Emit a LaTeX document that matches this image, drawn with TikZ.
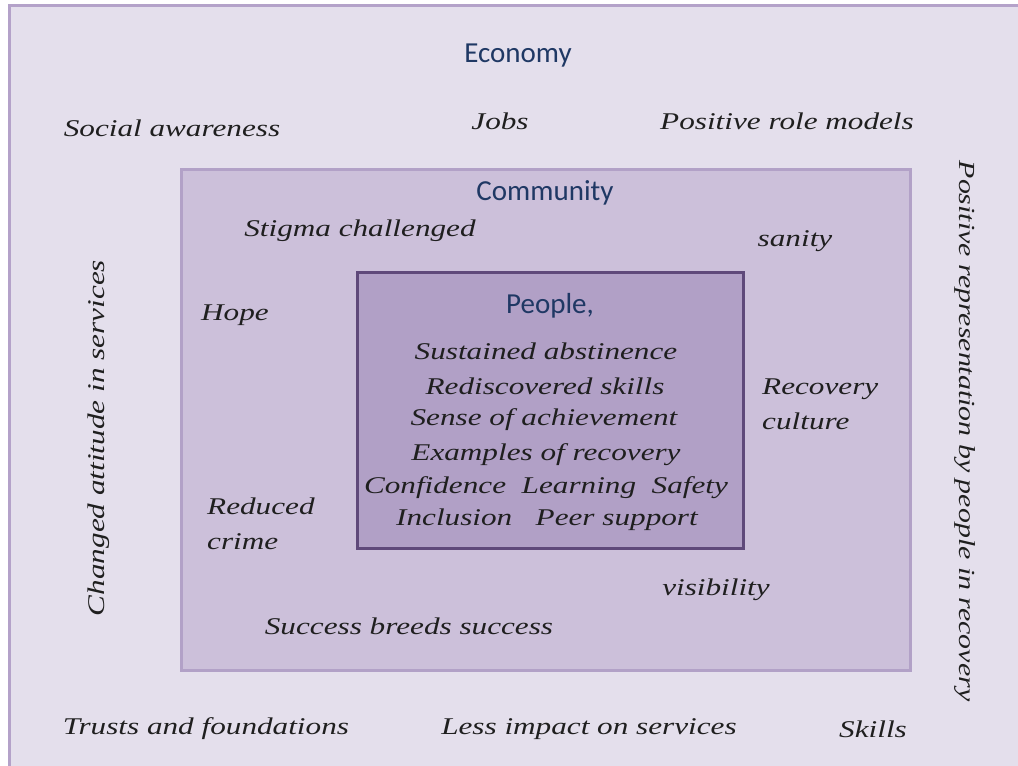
\documentclass[tikz,border=0pt]{standalone}
\usepackage{fontspec}
\newfontfamily\hand{Liberation Serif}[ItalicFont=*, UprightFont=* Italic, FakeStretch=1.3]
\newfontfamily\headfont{Carlito}
\definecolor{outerfill}{HTML}{E4DFEC}
\definecolor{outerline}{HTML}{B4A2C9}
\definecolor{midfill}{HTML}{CCC0DA}
\definecolor{midline}{HTML}{B2A1C7}
\definecolor{innerfill}{HTML}{B1A0C6}
\definecolor{innerline}{HTML}{5F497A}
\definecolor{headblue}{HTML}{1F3864}
\tikzset{
  hand/.style={font=\hand\fontsize{24}{35}\selectfont, text=black!88, inner sep=0pt},
  head/.style={font=\headfont\fontsize{29}{34}\selectfont, text=headblue, inner sep=0pt},
  outerbox/.style={fill=outerfill, draw=outerline, line width=3pt},
  midbox/.style={fill=midfill, draw=midline, line width=3pt},
  innerbox/.style={fill=innerfill, draw=innerline, line width=3pt}
}
\begin{document}
\begin{tikzpicture}[x=1pt,y=-1pt]
\clip (0,0) rectangle (1018,766);
\fill[white] (0,0) rectangle (1018,766);
\draw[outerbox] (9.5,5.5) rectangle (1040,790);
\draw[midbox] (181.5,169.5) rectangle (910.5,670.5);
\draw[innerbox] (357.5,272.5) rectangle (743.5,548.5);

\node[head] (economy) at (518,56) {Economy};
\node[hand] (social) at (172,128) {Social awareness};
\node[hand] (jobs) at (500,121) {Jobs};
\node[hand] (rolemodels) at (787,121) {Positive role models};

\node[head] (community) at (545,193) {Community};
\node[hand] (stigma) at (360,231) {Stigma challenged};
\node[hand] (sanity) at (795,241) {sanity};
\node[hand] (hope) at (235,315) {Hope};
\node[hand, align=left, anchor=west] (culture) at (762,404) {Recovery\\culture};
\node[hand, align=left, anchor=west] (crime) at (207,524) {Reduced\\crime};
\node[hand] (visibility) at (716,590) {visibility};
\node[hand] (success) at (409,626) {Success breeds success};

\node[head] (people) at (550,306) {People,};
\node[hand] (sustained) at (546,351) {Sustained abstinence};
\node[hand] (rediscovered) at (545,386) {Rediscovered skills};
\node[hand] (sense) at (544,420) {Sense of achievement};
\node[hand] (examples) at (546,455) {Examples of recovery};
\node[hand] (confidence) at (546,488) {Confidence\ \ Learning\ \ Safety};
\node[hand] (inclusion) at (547,520) {Inclusion\ \ \ Peer support};

\node[hand, rotate=90] (changed) at (99,438) {Changed attitude in services};
\node[hand, rotate=-90, font=\hand\fontsize{23}{34}\selectfont] (representation) at (965,431) {Positive representation by people in recovery};

\node[hand] (trusts) at (206,729) {Trusts and foundations};
\node[hand] (impact) at (589,729) {Less impact on services};
\node[hand] (skills) at (873,729) {Skills};
\end{tikzpicture}
\end{document}
